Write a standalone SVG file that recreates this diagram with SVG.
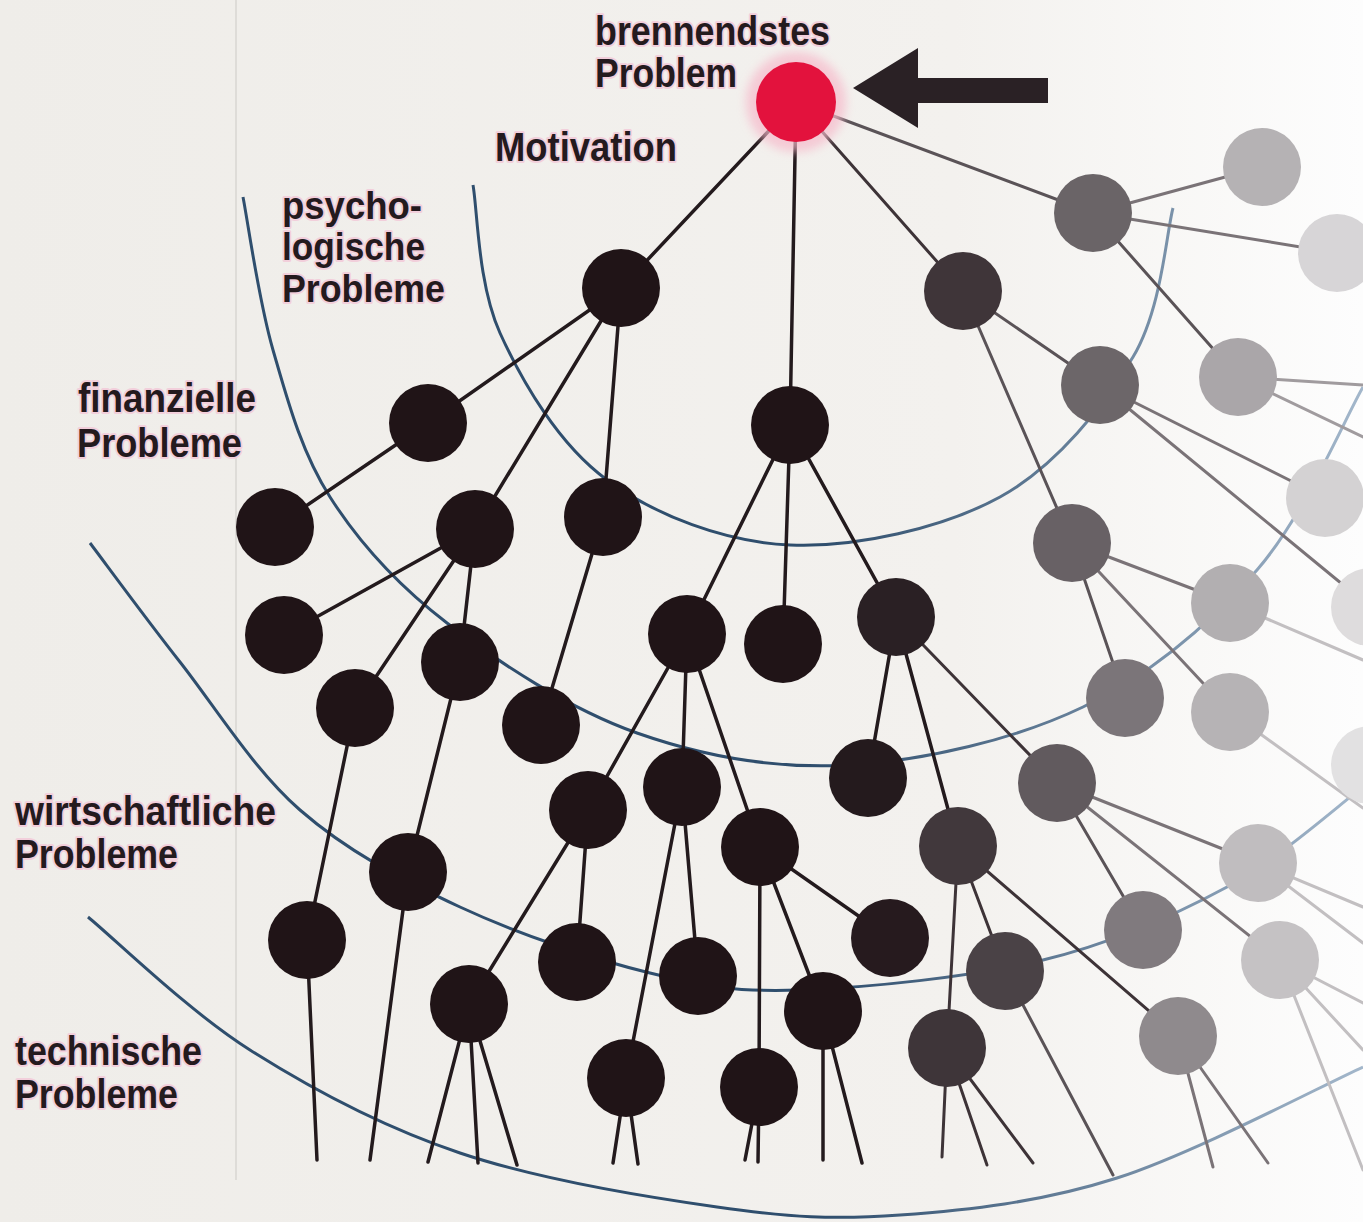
<svg xmlns="http://www.w3.org/2000/svg" width="1363" height="1222" viewBox="0 0 1363 1222">
<defs>
<linearGradient id="bg" gradientUnits="userSpaceOnUse" x1="0" y1="0" x2="1363" y2="0">
<stop offset="0" stop-color="#efede9"/><stop offset="0.7" stop-color="#f3f1ee"/><stop offset="1" stop-color="#fdfdfd"/>
</linearGradient>
<linearGradient id="arcg" gradientUnits="userSpaceOnUse" x1="820" y1="0" x2="1363" y2="0">
<stop offset="0" stop-color="#2f4e6d"/><stop offset="1" stop-color="#a3b7cb"/>
</linearGradient>
<filter id="blur" x="-50%" y="-50%" width="200%" height="200%"><feGaussianBlur stdDeviation="5"/></filter>
</defs>
<style>
.lbl{font-family:"Liberation Sans",Arial,sans-serif;font-weight:bold;font-size:40px;fill:#241a1e;stroke:#f2cfdb;stroke-width:4;stroke-linejoin:round;paint-order:stroke}
.sm{font-size:38px}
.arc{fill:none;stroke:url(#arcg);stroke-width:3}
#edges line{stroke-width:3;stroke-linecap:round}
#edges line.k{stroke-width:3.5}
.k{stroke:#231a1d}.g1{stroke:#3d3337}.g2{stroke:#5a5357}.g3{stroke:#7a7377}.g4{stroke:#a09b9e}.g5{stroke:#c2bfc1}
.nk{fill:#201417}
</style>
<rect width="1363" height="1222" fill="url(#bg)"/>
<line x1="236" y1="0" x2="236" y2="1180" stroke="#d9d6d2" stroke-width="1.5"/>

<g id="rings">
<path class="arc" d="M473,185 C477.5,209.7 477.7,283.8 500,333 C522.3,382.2 558.7,444.7 607,480 C655.3,515.3 724.5,542.2 790,545 C855.5,547.8 942.8,528.3 1000,497 C1057.2,465.7 1104.2,405.2 1133,357 C1161.8,308.8 1166.3,232.8 1173,208"/>
<path class="arc" d="M243,197 C248,222.5 258.5,300 273,350 C287.5,400 301,451.5 330,497 C359,542.5 395.8,583.7 447,623 C498.2,662.3 569.8,709.3 637,733 C704.2,756.7 775.7,769.3 850,765 C924.3,760.7 1015.2,739.5 1083,707 C1150.8,674.5 1210.3,623.3 1257,570 C1303.7,516.7 1345.3,417.5 1363,387"/>
<path class="arc" d="M90,543 C105,562.8 145,617.5 180,662 C215,706.5 253.3,769.2 300,810 C346.7,850.8 401.7,879.8 460,907 C518.3,934.2 593.3,959.2 650,973 C706.7,986.8 734.5,992.2 800,990 C865.5,987.8 971.8,977.2 1043,960 C1114.2,942.8 1173.7,915.8 1227,887 C1280.3,858.2 1340.3,803.7 1363,787"/>
<path class="arc" d="M88,917 C115,939.2 188,1010.7 250,1050 C312,1089.3 382.2,1126.8 460,1153 C537.8,1179.2 643.7,1196.7 717,1207 C790.3,1217.3 833.3,1219.8 900,1215 C966.7,1210.2 1039.8,1202.7 1117,1178 C1194.2,1153.3 1322,1085.5 1363,1067"/>
</g>

<g id="labels">
<text class="lbl" x="595" y="45" textLength="235" lengthAdjust="spacingAndGlyphs">brennendstes</text>
<text class="lbl" x="595" y="87" textLength="142" lengthAdjust="spacingAndGlyphs">Problem</text>
<text class="lbl" x="495" y="161" textLength="182" lengthAdjust="spacingAndGlyphs">Motivation</text>
<text class="lbl sm" x="282" y="219" textLength="140" lengthAdjust="spacingAndGlyphs">psycho-</text>
<text class="lbl sm" x="282" y="260" textLength="143" lengthAdjust="spacingAndGlyphs">logische</text>
<text class="lbl sm" x="282" y="302" textLength="163" lengthAdjust="spacingAndGlyphs">Probleme</text>
<text class="lbl" x="78" y="412" textLength="178" lengthAdjust="spacingAndGlyphs">finanzielle</text>
<text class="lbl" x="77" y="457" textLength="165" lengthAdjust="spacingAndGlyphs">Probleme</text>
<text class="lbl" x="15" y="825" textLength="261" lengthAdjust="spacingAndGlyphs">wirtschaftliche</text>
<text class="lbl" x="15" y="868" textLength="163" lengthAdjust="spacingAndGlyphs">Probleme</text>
<text class="lbl" x="15" y="1065" textLength="187" lengthAdjust="spacingAndGlyphs">technische</text>
<text class="lbl" x="15" y="1108" textLength="163" lengthAdjust="spacingAndGlyphs">Probleme</text>
</g>

<g id="arrow">
<polygon points="853,88 918,48 918,78 1048,78 1048,103 918,103 918,128" fill="#2a2125"/>
</g>

<g id="edges">
<line class="k" x1="796" y1="102" x2="621" y2="288"/>
<line class="k" x1="796" y1="102" x2="790" y2="425"/>
<line class="g1" x1="796" y1="102" x2="963" y2="291"/>
<line class="g2" x1="796" y1="102" x2="1093" y2="213"/>
<line class="k" x1="621" y1="288" x2="428" y2="423"/>
<line class="k" x1="621" y1="288" x2="475" y2="529"/>
<line class="k" x1="621" y1="288" x2="603" y2="517"/>
<line class="k" x1="428" y1="423" x2="275" y2="527"/>
<line class="k" x1="475" y1="529" x2="284" y2="635"/>
<line class="k" x1="475" y1="529" x2="355" y2="708"/>
<line class="k" x1="475" y1="529" x2="460" y2="662"/>
<line class="k" x1="355" y1="708" x2="307" y2="940"/>
<line class="k" x1="460" y1="662" x2="408" y2="872"/>
<line class="k" x1="603" y1="517" x2="541" y2="725"/>
<line class="k" x1="790" y1="425" x2="687" y2="634"/>
<line class="k" x1="790" y1="425" x2="783" y2="644"/>
<line class="k" x1="790" y1="425" x2="896" y2="617"/>
<line class="k" x1="687" y1="634" x2="588" y2="810"/>
<line class="k" x1="687" y1="634" x2="682" y2="787"/>
<line class="k" x1="687" y1="634" x2="760" y2="847"/>
<line class="k" x1="588" y1="810" x2="469" y2="1004"/>
<line class="k" x1="588" y1="810" x2="577" y2="962"/>
<line class="k" x1="682" y1="787" x2="626" y2="1078"/>
<line class="k" x1="682" y1="787" x2="698" y2="976"/>
<line class="k" x1="760" y1="847" x2="759" y2="1087"/>
<line class="k" x1="760" y1="847" x2="823" y2="1011"/>
<line class="k" x1="760" y1="847" x2="890" y2="938"/>
<line class="k" x1="896" y1="617" x2="868" y2="778"/>
<line class="k" x1="896" y1="617" x2="958" y2="846"/>
<line class="g1" x1="896" y1="617" x2="1057" y2="783"/>
<line class="g1" x1="958" y1="846" x2="947" y2="1048"/>
<line class="g1" x1="958" y1="846" x2="1005" y2="971"/>
<line class="g1" x1="958" y1="846" x2="1178" y2="1036"/>
<line class="k" x1="307" y1="940" x2="317" y2="1160"/>
<line class="k" x1="408" y1="872" x2="370" y2="1160"/>
<line class="k" x1="469" y1="1004" x2="428" y2="1162"/>
<line class="k" x1="469" y1="1004" x2="478" y2="1163"/>
<line class="k" x1="469" y1="1004" x2="517" y2="1165"/>
<line class="k" x1="626" y1="1078" x2="613" y2="1163"/>
<line class="k" x1="626" y1="1078" x2="638" y2="1164"/>
<line class="k" x1="759" y1="1087" x2="745" y2="1160"/>
<line class="k" x1="759" y1="1087" x2="758" y2="1162"/>
<line class="k" x1="823" y1="1011" x2="823" y2="1160"/>
<line class="k" x1="823" y1="1011" x2="862" y2="1163"/>
<line class="g1" x1="947" y1="1048" x2="942" y2="1157"/>
<line class="g1" x1="947" y1="1048" x2="987" y2="1165"/>
<line class="g1" x1="947" y1="1048" x2="1033" y2="1163"/>
<line class="g2" x1="1005" y1="971" x2="1113" y2="1175"/>
<line class="g3" x1="1178" y1="1036" x2="1213" y2="1167"/>
<line class="g3" x1="1178" y1="1036" x2="1268" y2="1163"/>
<line class="g2" x1="963" y1="291" x2="1100" y2="385"/>
<line class="g2" x1="963" y1="291" x2="1072" y2="543"/>
<line class="g3" x1="1093" y1="213" x2="1262" y2="167"/>
<line class="g3" x1="1093" y1="213" x2="1337" y2="253"/>
<line class="g2" x1="1093" y1="213" x2="1238" y2="377"/>
<line class="g3" x1="1100" y1="385" x2="1325" y2="498"/>
<line class="g3" x1="1100" y1="385" x2="1370" y2="607"/>
<line class="g3" x1="1072" y1="543" x2="1230" y2="603"/>
<line class="g2" x1="1072" y1="543" x2="1125" y2="698"/>
<line class="g3" x1="1072" y1="543" x2="1230" y2="712"/>
<line class="g4" x1="1238" y1="377" x2="1363" y2="385"/>
<line class="g4" x1="1238" y1="377" x2="1363" y2="437"/>
<line class="g5" x1="1230" y1="603" x2="1363" y2="660"/>
<line class="g5" x1="1230" y1="712" x2="1363" y2="808"/>
<line class="g2" x1="1057" y1="783" x2="1143" y2="930"/>
<line class="g3" x1="1057" y1="783" x2="1258" y2="863"/>
<line class="g3" x1="1057" y1="783" x2="1280" y2="960"/>
<line class="g5" x1="1258" y1="863" x2="1363" y2="907"/>
<line class="g5" x1="1258" y1="863" x2="1363" y2="943"/>
<line class="g5" x1="1280" y1="960" x2="1363" y2="1003"/>
<line class="g5" x1="1280" y1="960" x2="1363" y2="1050"/>
<line class="g5" x1="1280" y1="960" x2="1363" y2="1170"/>
</g>

<g id="nodes">
<g id="root"><circle cx="796" cy="102" r="50" fill="#f6b9ca" opacity="0.7" filter="url(#blur)"/><circle cx="796" cy="102" r="40" fill="#e3123d"/></g>
<g id="a"><circle class="nk" cx="621" cy="288" r="39"/></g>
<g id="b"><circle class="nk" cx="790" cy="425" r="39"/></g>
<g id="c"><circle cx="963" cy="291" r="39" fill="#3f3539"/></g>
<g id="d"><circle cx="1093" cy="213" r="39" fill="#6a6467"/></g>
<g id="e1"><circle cx="1262" cy="167" r="39" fill="#b5b2b4"/></g>
<g id="e2"><circle cx="1337" cy="253" r="39" fill="#d7d5d7"/></g>
<g id="f1"><circle class="nk" cx="428" cy="423" r="39"/></g>
<g id="n1"><circle class="nk" cx="475" cy="529" r="39"/></g>
<g id="n2"><circle class="nk" cx="603" cy="517" r="39"/></g>
<g id="p1"><circle class="nk" cx="275" cy="527" r="39"/></g>
<g id="p2"><circle class="nk" cx="284" cy="635" r="39"/></g>
<g id="p3"><circle class="nk" cx="355" cy="708" r="39"/></g>
<g id="p4"><circle class="nk" cx="460" cy="662" r="39"/></g>
<g id="p5"><circle class="nk" cx="541" cy="725" r="39"/></g>
<g id="p6"><circle class="nk" cx="307" cy="940" r="39"/></g>
<g id="p7"><circle class="nk" cx="408" cy="872" r="39"/></g>
<g id="b1"><circle class="nk" cx="687" cy="634" r="39"/></g>
<g id="b2"><circle class="nk" cx="783" cy="644" r="39"/></g>
<g id="b3"><circle cx="896" cy="617" r="39" fill="#2a2024"/></g>
<g id="b4"><circle class="nk" cx="588" cy="810" r="39"/></g>
<g id="b5"><circle class="nk" cx="682" cy="787" r="39"/></g>
<g id="b6"><circle class="nk" cx="760" cy="847" r="39"/></g>
<g id="b7"><circle class="nk" cx="469" cy="1004" r="39"/></g>
<g id="b8"><circle class="nk" cx="577" cy="962" r="39"/></g>
<g id="b9"><circle class="nk" cx="626" cy="1078" r="39"/></g>
<g id="b10"><circle class="nk" cx="698" cy="976" r="39"/></g>
<g id="b11"><circle class="nk" cx="759" cy="1087" r="39"/></g>
<g id="b12"><circle class="nk" cx="823" cy="1011" r="39"/></g>
<g id="b13"><circle cx="890" cy="938" r="39" fill="#261a1e"/></g>
<g id="b14"><circle cx="868" cy="778" r="39" fill="#241a1d"/></g>
<g id="b15"><circle cx="958" cy="846" r="39" fill="#41383c"/></g>
<g id="b16"><circle cx="947" cy="1048" r="39" fill="#3e3539"/></g>
<g id="b17"><circle cx="1005" cy="971" r="39" fill="#4a4246"/></g>
<g id="b18"><circle cx="1178" cy="1036" r="39" fill="#8f8a8d"/></g>
<g id="g1"><circle cx="1100" cy="385" r="39" fill="#6c6669"/></g>
<g id="g2"><circle cx="1072" cy="543" r="39" fill="#686165"/></g>
<g id="h1"><circle cx="1238" cy="377" r="39" fill="#aaa6a9"/></g>
<g id="h2"><circle cx="1325" cy="498" r="39" fill="#d4d2d3"/></g>
<g id="h3"><circle cx="1370" cy="607" r="39" fill="#dedcdd"/></g>
<g id="g3"><circle cx="1230" cy="603" r="39" fill="#b2afb1"/></g>
<g id="g4"><circle cx="1125" cy="698" r="39" fill="#7b7579"/></g>
<g id="g5"><circle cx="1230" cy="712" r="39" fill="#b6b3b5"/></g>
<g id="h4"><circle cx="1370" cy="765" r="39" fill="#e2e1e2"/></g>
<g id="k1"><circle cx="1057" cy="783" r="39" fill="#615a5e"/></g>
<g id="k2"><circle cx="1143" cy="930" r="39" fill="#807a7e"/></g>
<g id="k3"><circle cx="1258" cy="863" r="39" fill="#c0bdbf"/></g>
<g id="k4"><circle cx="1280" cy="960" r="39" fill="#c5c2c4"/></g>
</g>
</svg>
